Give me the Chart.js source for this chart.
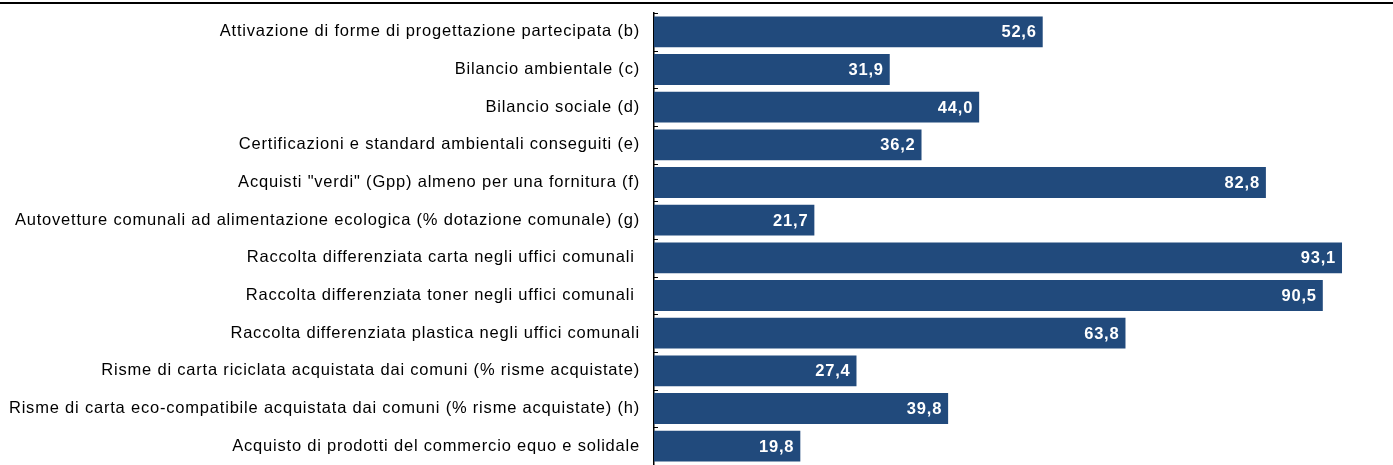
<!DOCTYPE html>
<html>
<head>
<meta charset="utf-8">
<script src="https://cdn.jsdelivr.net/npm/chart.js@4/dist/chart.umd.min.js"></script>
<style>
  html, body { margin: 0; padding: 0; background: #fff; }
  .wrap { position: relative; width: 1393px; height: 465px; }
  .topline { position: absolute; left: 0; top: 2px; width: 1393px; height: 2px; background: #000; }
  canvas { position: absolute; left: 0; top: 0; }
</style>
</head>
<body>
<div class="wrap">
  <div class="topline"></div>
  <canvas id="chart" width="1393" height="465"></canvas>
</div>
<script>
// Categorie e valori (%)
const categorie = [
    'Attivazione di forme di progettazione partecipata (b)',
    'Bilancio ambientale (c)',
    'Bilancio sociale (d)',
    'Certificazioni e standard ambientali conseguiti (e)',
    'Acquisti "verdi" (Gpp) almeno per una fornitura (f)',
    'Autovetture comunali ad alimentazione ecologica (% dotazione comunale) (g)',
    'Raccolta differenziata carta negli uffici comunali ',
    'Raccolta differenziata toner negli uffici comunali ',
    'Raccolta differenziata plastica negli uffici comunali',
    'Risme di carta riciclata acquistata dai comuni (% risme acquistate)',
    'Risme di carta eco-compatibile acquistata dai comuni (% risme acquistate) (h)',
    'Acquisto di prodotti del commercio equo e solidale'
];
const valori = [52.6, 31.9, 44.0, 36.2, 82.8, 21.7, 93.1, 90.5, 63.8, 27.4, 39.8, 19.8];

const formatta = v => v.toFixed(1).replace('.', ',');

// Spaziatura lettere un po' più larga, come nell'originale
const spaziatura = {
    id: 'spaziatura',
    beforeUpdate(chart) { chart.ctx.letterSpacing = '0.8px'; },
    beforeDraw(chart) { chart.ctx.letterSpacing = '0.8px'; }
};

// Etichette dei valori dentro le barre
const etichetteValori = {
    id: 'etichetteValori',
    afterDatasetsDraw(chart) {
        const ctx = chart.ctx;
        const meta = chart.getDatasetMeta(0);
        ctx.save();
        ctx.letterSpacing = '0.8px';
        ctx.font = 'bold 16.5px "Liberation Sans", Arial, sans-serif';
        ctx.fillStyle = '#ffffff';
        ctx.textAlign = 'right';
        ctx.textBaseline = 'middle';
        meta.data.forEach((bar, i) => {
            ctx.fillText(formatta(valori[i]), bar.x - 6, bar.y + 1);
        });
        ctx.restore();
    }
};

// Piccole tacche sull'asse tra le categorie
const tacche = {
    id: 'tacche',
    afterDraw(chart) {
        const ctx = chart.ctx;
        const y = chart.scales.y;
        const x0 = y.right;
        ctx.save();
        ctx.strokeStyle = '#000';
        ctx.lineWidth = 1;
        for (let i = 0; i <= categorie.length; i++) {
            const py = Math.round(y.getPixelForValue(i - 0.5)) + 0.5;
            ctx.beginPath();
            ctx.moveTo(x0, py);
            ctx.lineTo(x0 + 4, py);
            ctx.stroke();
        }
        ctx.restore();
    }
};

new Chart(document.getElementById('chart'), {
    type: 'bar',
    data: {
        labels: categorie,
        datasets: [{
            data: valori,
            backgroundColor: '#214a7c',
            borderWidth: 0,
            categoryPercentage: 1,
            barPercentage: 0.82
        }]
    },
    options: {
        indexAxis: 'y',
        responsive: false,
        animation: false,
        layout: { padding: { top: 13, right: 0, bottom: 0, left: 0 } },
        scales: {
            x: {
                display: false,
                min: 0,
                max: 100
            },
            y: {
                afterFit(scale) {
                    scale.width = 654;
                    scale.paddingTop = 0;
                    scale.paddingBottom = 0;
                },
                grid: { display: false, drawTicks: false },
                border: { display: true, color: '#000', width: 1.5 },
                ticks: {
                    color: '#000',
                    padding: 14,
                    font: { family: '"Liberation Sans", Arial, sans-serif', size: 16.5 }
                }
            }
        },
        plugins: {
            legend: { display: false },
            tooltip: { enabled: false }
        }
    },
    plugins: [spaziatura, etichetteValori, tacche]
});
</script>
</body>
</html>
